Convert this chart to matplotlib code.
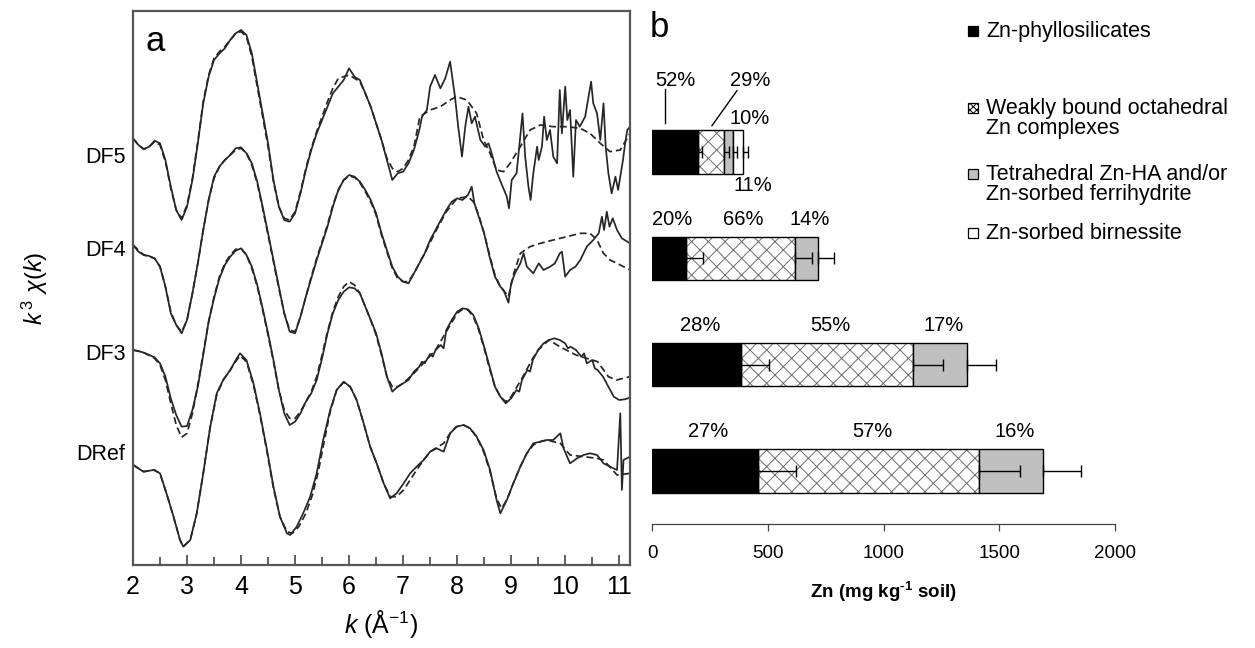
import matplotlib
matplotlib.use("Agg")
import matplotlib.pyplot as plt
from matplotlib.patches import Rectangle
import numpy as np

# ---- panel a: k3-weighted EXAFS spectra (solid = data, dashed = LCF fit) ----
sample_names = ["DF5", "DF4", "DF3", "DRef"]
# vertical stacking offsets of the spectra (arbitrary units)
spectrum_offsets = [13.2, 9.75, 6.75, 3.5]

df5_k = [2.0, 2.1, 2.2, 2.3, 2.4, 2.5, 2.6, 2.7, 2.8, 2.9, 3.0, 3.1, 3.2, 3.3, 3.4, 3.5,
         3.6, 3.7, 3.8, 3.9, 4.0, 4.1, 4.2, 4.3, 4.4, 4.5, 4.6, 4.7, 4.8, 4.9, 5.0, 5.1,
         5.2, 5.3, 5.4, 5.5, 5.6, 5.7, 5.8, 5.9, 6.0, 6.1, 6.2, 6.3, 6.4, 6.5, 6.6, 6.7,
         6.8, 6.9, 7.0, 7.1, 7.2, 7.3, 7.35, 7.44, 7.5, 7.59, 7.69, 7.78, 7.87, 7.96, 8.02,
         8.09, 8.15, 8.21, 8.27, 8.33, 8.43, 8.52, 8.58, 8.64, 8.73, 8.83, 8.92, 8.96, 9.01,
         9.1, 9.15, 9.21, 9.26, 9.32, 9.36, 9.41, 9.48, 9.51, 9.57, 9.61, 9.66, 9.72, 9.78,
         9.85, 9.9, 9.94, 10.0, 10.04, 10.09, 10.15, 10.2, 10.27, 10.37, 10.48, 10.52, 10.59,
         10.65, 10.71, 10.75, 10.8, 10.86, 10.93, 10.98, 11.02, 11.07, 11.11, 11.15, 11.2]
df5_data = [-0.40, -0.60, -0.73, -0.65, -0.47, -0.55, -1.05, -1.85, -2.55, -2.85, -2.45,
            -1.65, -0.55, 0.65, 1.45, 1.95, 2.15, 2.30, 2.55, 2.75, 2.85, 2.70, 2.15, 1.25,
            0.35, -0.55, -1.65, -2.45, -2.85, -2.90, -2.65, -2.05, -1.35, -0.75, -0.25, 0.15,
            0.55, 0.95, 1.15, 1.35, 1.70, 1.45, 1.35, 0.95, 0.55, 0.05, -0.45, -1.05, -1.65,
            -1.45, -1.40, -1.15, -0.75, -0.15, 0.25, 0.45, 1.15, 1.50, 1.10, 1.40, 1.90, 0.85,
            -0.05, -0.95, -0.05, 0.55, 0.05, 0.25, -0.45, -0.65, -0.55, -0.85, -1.40, -1.80,
            -2.15, -2.50, -1.65, -1.45, -0.65, 0.35, -0.95, -1.85, -2.25, -1.45, -0.65, -1.05,
            -0.65, 0.25, -0.45, -0.15, -0.95, -1.15, 1.05, -0.25, 1.15, 0.15, 0.45, -1.55, 0.15,
            -0.05, 0.25, 1.30, 0.65, 0.35, -0.45, 0.65, -0.65, -1.45, -2.05, -1.55, -1.95,
            -1.55, -1.05, -0.55, -0.15, -0.05]
df5_fit_k = [2.0, 2.1, 2.2, 2.3, 2.4, 2.5, 2.6, 2.7, 2.8, 2.9, 3.0, 3.1, 3.2, 3.3, 3.4, 3.5,
             3.6, 3.7, 3.8, 3.9, 4.0, 4.1, 4.2, 4.3, 4.4, 4.5, 4.6, 4.7, 4.8, 4.9, 5.0, 5.1,
             5.2, 5.3, 5.4, 5.5, 5.6, 5.7, 5.8, 5.9, 6.0, 6.1, 6.2, 6.3, 6.4, 6.5, 6.6, 6.7,
             6.8, 6.9, 7.0, 7.1, 7.2, 7.31, 7.5, 7.69, 7.87, 7.99, 8.18, 8.36, 8.49, 8.61, 8.73,
             8.86, 8.98, 9.17, 9.35, 9.54, 9.78, 10.03, 10.28, 10.46, 10.65, 10.83, 11.02, 11.2]
df5_fit = [-0.40, -0.60, -0.72, -0.65, -0.50, -0.60, -1.10, -1.90, -2.55, -2.80, -2.40,
           -1.60, -0.50, 0.70, 1.50, 2.00, 2.20, 2.35, 2.55, 2.75, 2.80, 2.65, 2.05, 1.15,
           0.25, -0.65, -1.70, -2.45, -2.80, -2.85, -2.60, -2.00, -1.30, -0.70, -0.20, 0.25,
           0.70, 1.10, 1.40, 1.45, 1.50, 1.40, 1.30, 0.95, 0.55, 0.05, -0.45, -1.00, -1.30,
           -1.40, -1.30, -1.05, -0.65, 0.25, 0.45, 0.55, 0.75, 0.85, 0.75, 0.35, -0.45, -0.85,
           -1.35, -1.40, -1.15, -0.65, -0.15, 0.00, -0.05, -0.05, -0.10, -0.25, -0.55, -0.80,
           -0.75, -0.25]

df4_k = [2.0, 2.1, 2.2, 2.3, 2.4, 2.5, 2.6, 2.7, 2.8, 2.9, 3.0, 3.1, 3.2, 3.3, 3.4, 3.5,
         3.6, 3.7, 3.8, 3.9, 4.0, 4.1, 4.2, 4.3, 4.4, 4.5, 4.6, 4.7, 4.8, 4.9, 5.0, 5.1,
         5.2, 5.3, 5.4, 5.5, 5.6, 5.7, 5.8, 5.9, 6.0, 6.1, 6.2, 6.3, 6.4, 6.5, 6.6, 6.7,
         6.8, 6.9, 7.0, 7.1, 7.2, 7.3, 7.4, 7.5, 7.6, 7.7, 7.8, 7.9, 8.0, 8.1, 8.2, 8.27,
         8.32, 8.4, 8.5, 8.6, 8.7, 8.8, 8.86, 8.95, 9.0, 9.07, 9.17, 9.23, 9.29, 9.41, 9.51,
         9.6, 9.72, 9.81, 9.9, 9.94, 10.0, 10.09, 10.19, 10.28, 10.4, 10.52, 10.62, 10.68,
         10.72, 10.77, 10.82, 10.88, 10.96, 11.05, 11.2]
df4_data = [-0.15, -0.35, -0.45, -0.48, -0.55, -0.80, -1.40, -2.20, -2.55, -2.80, -2.40,
            -1.60, -0.70, 0.30, 1.20, 1.90, 2.20, 2.40, 2.55, 2.75, 2.78, 2.60, 2.30, 1.75,
            1.00, 0.20, -0.60, -1.40, -2.20, -2.75, -2.80, -2.30, -1.70, -1.15, -0.60, -0.10,
            0.40, 1.00, 1.50, 1.80, 1.95, 1.90, 1.75, 1.50, 1.20, 0.80, 0.20, -0.30, -0.80,
            -1.10, -1.25, -1.30, -1.00, -0.70, -0.40, 0.00, 0.30, 0.60, 0.90, 1.15, 1.25, 1.20,
            1.35, 1.60, 1.10, 0.70, 0.20, -0.50, -1.10, -1.40, -1.50, -1.88, -1.30, -1.00,
            -0.70, -0.40, -0.80, -1.00, -0.70, -0.90, -0.80, -0.70, -0.40, -0.35, -1.10, -0.90,
            -0.80, -0.60, -0.20, 0.00, 0.20, 0.70, 0.30, 0.85, 0.40, 0.65, 0.30, 0.05, -0.10]
df4_fit_k = [2.0, 2.2, 2.4, 2.5, 2.6, 2.7, 2.8, 2.9, 3.0, 3.1, 3.2, 3.3, 3.4, 3.5, 3.6, 3.7,
             3.8, 3.9, 4.0, 4.1, 4.2, 4.3, 4.4, 4.5, 4.6, 4.7, 4.8, 4.9, 5.0, 5.1, 5.2, 5.3,
             5.4, 5.5, 5.6, 5.7, 5.8, 5.9, 6.0, 6.1, 6.2, 6.3, 6.4, 6.5, 6.6, 6.7, 6.8, 6.9,
             7.0, 7.1, 7.2, 7.4, 7.6, 7.8, 8.0, 8.2, 8.3, 8.4, 8.5, 8.6, 8.7, 8.8, 8.95, 9.05,
             9.17, 9.35, 9.54, 9.78, 10.03, 10.28, 10.46, 10.59, 10.71, 10.83, 10.96, 11.08, 11.2]
df4_fit = [-0.15, -0.45, -0.55, -0.80, -1.40, -2.15, -2.55, -2.75, -2.40, -1.60, -0.70,
           0.30, 1.20, 1.85, 2.20, 2.40, 2.55, 2.70, 2.75, 2.60, 2.25, 1.70, 0.95, 0.15,
           -0.65, -1.45, -2.20, -2.70, -2.75, -2.30, -1.70, -1.10, -0.55, -0.05, 0.45, 1.05,
           1.50, 1.80, 1.92, 1.88, 1.72, 1.45, 1.15, 0.75, 0.15, -0.35, -0.85, -1.15, -1.25,
           -1.25, -1.00, -0.40, 0.25, 0.85, 1.25, 1.30, 1.15, 0.75, 0.20, -0.45, -1.05, -1.40,
           -1.70, -1.00, -0.40, -0.20, -0.10, 0.00, 0.10, 0.20, 0.20, 0.00, -0.40, -0.60,
           -0.70, -0.80, -0.90]

df3_k = [2.0, 2.1, 2.2, 2.3, 2.4, 2.5, 2.6, 2.7, 2.8, 2.9, 3.0, 3.1, 3.2, 3.3, 3.4, 3.5,
         3.6, 3.7, 3.8, 3.9, 4.0, 4.1, 4.2, 4.3, 4.4, 4.5, 4.6, 4.7, 4.8, 4.9, 5.0, 5.1,
         5.2, 5.3, 5.4, 5.5, 5.6, 5.7, 5.8, 5.9, 6.0, 6.1, 6.2, 6.3, 6.4, 6.5, 6.6, 6.7,
         6.8, 6.9, 7.0, 7.1, 7.2, 7.3, 7.35, 7.4, 7.5, 7.55, 7.6, 7.7, 7.75, 7.8, 7.9, 8.0,
         8.1, 8.2, 8.3, 8.4, 8.5, 8.6, 8.7, 8.8, 8.9, 9.0, 9.1, 9.15, 9.2, 9.3, 9.35, 9.4,
         9.5, 9.6, 9.7, 9.8, 9.9, 10.0, 10.05, 10.1, 10.2, 10.3, 10.35, 10.4, 10.5, 10.55,
         10.6, 10.7, 10.8, 10.9, 11.0, 11.1, 11.2]
df3_data = [-0.30, -0.33, -0.38, -0.45, -0.52, -0.70, -1.10, -1.75, -2.25, -2.60, -2.58,
            -2.10, -1.40, -0.45, 0.55, 1.25, 1.85, 2.25, 2.50, 2.68, 2.75, 2.55, 2.20, 1.65,
            0.95, 0.20, -0.60, -1.50, -2.20, -2.55, -2.45, -2.20, -1.85, -1.60, -1.20, -0.55,
            0.20, 0.80, 1.20, 1.45, 1.58, 1.55, 1.40, 1.00, 0.60, 0.20, -0.40, -1.10, -1.55,
            -1.40, -1.30, -1.20, -0.95, -0.80, -0.65, -0.70, -0.42, -0.50, -0.30, -0.15, -0.25,
            0.30, 0.60, 0.85, 0.95, 0.92, 0.75, 0.35, -0.20, -0.80, -1.40, -1.70, -1.90, -1.75,
            -1.50, -1.55, -1.20, -0.90, -0.95, -0.60, -0.30, -0.10, 0.00, 0.05, 0.00, -0.10,
            -0.25, -0.20, -0.30, -0.50, -0.40, -0.70, -0.60, -0.85, -0.90, -1.10, -1.40, -1.70,
            -1.80, -1.78, -1.73]
df3_fit_k = [2.0, 2.2, 2.4, 2.5, 2.6, 2.7, 2.8, 2.9, 3.0, 3.1, 3.2, 3.3, 3.4, 3.5, 3.6, 3.7,
             3.8, 3.9, 4.0, 4.1, 4.2, 4.3, 4.4, 4.5, 4.6, 4.7, 4.8, 4.9, 5.0, 5.1, 5.2, 5.3,
             5.4, 5.5, 5.6, 5.7, 5.8, 5.9, 6.0, 6.1, 6.2, 6.3, 6.4, 6.5, 6.6, 6.7, 6.8, 6.9,
             7.0, 7.2, 7.4, 7.6, 7.8, 8.0, 8.1, 8.2, 8.3, 8.4, 8.5, 8.6, 8.7, 8.8, 8.9, 9.0,
             9.2, 9.4, 9.5, 9.7, 9.9, 10.2, 10.4, 10.6, 10.8, 10.95, 11.2]
df3_fit = [-0.30, -0.38, -0.55, -0.75, -1.20, -1.90, -2.55, -2.92, -2.80, -2.20, -1.35,
           -0.40, 0.55, 1.30, 1.90, 2.30, 2.55, 2.72, 2.75, 2.55, 2.15, 1.60, 0.90, 0.15,
           -0.65, -1.50, -2.10, -2.35, -2.35, -2.15, -1.85, -1.55, -1.10, -0.45, 0.25, 0.85,
           1.30, 1.60, 1.75, 1.65, 1.40, 1.00, 0.60, 0.15, -0.45, -1.10, -1.40, -1.40, -1.30,
           -1.00, -0.65, -0.30, 0.25, 0.80, 0.92, 0.90, 0.70, 0.30, -0.25, -0.85, -1.40,
           -1.70, -1.85, -1.70, -1.15, -0.55, -0.30, 0.00, -0.20, -0.45, -0.55, -0.65, -1.10,
           -1.20, -1.10]

dref_k = [2.01, 2.19, 2.38, 2.5, 2.62, 2.75, 2.87, 2.93, 3.06, 3.18, 3.3, 3.43, 3.55, 3.67,
          3.8, 3.92, 3.98, 4.1, 4.23, 4.35, 4.48, 4.6, 4.72, 4.85, 4.91, 5.03, 5.15, 5.28,
          5.4, 5.52, 5.65, 5.77, 5.9, 6.02, 6.14, 6.27, 6.39, 6.51, 6.64, 6.76, 6.88, 7.01,
          7.13, 7.25, 7.38, 7.5, 7.62, 7.75, 7.87, 7.99, 8.12, 8.24, 8.36, 8.49, 8.61, 8.73,
          8.8, 8.92, 9.04, 9.17, 9.29, 9.41, 9.54, 9.66, 9.78, 9.91, 9.97, 10.09, 10.22,
          10.34, 10.46, 10.59, 10.71, 10.83, 10.96, 11.02, 11.05, 11.08, 11.2]
dref_data = [-0.50, -0.70, -0.65, -0.75, -1.35, -2.05, -2.75, -2.95, -2.75, -1.95, -0.75,
             0.65, 1.65, 2.05, 2.35, 2.70, 2.85, 2.65, 1.95, 1.05, -0.05, -1.15, -2.05,
             -2.55, -2.60, -2.35, -1.95, -1.45, -0.75, 0.25, 1.15, 1.75, 2.00, 1.85, 1.45,
             0.75, 0.05, -0.45, -1.05, -1.50, -1.35, -1.05, -0.75, -0.55, -0.35, -0.10, 0.00,
             -0.10, 0.45, 0.65, 0.70, 0.60, 0.35, -0.05, -0.65, -1.55, -1.95, -1.55, -1.05,
             -0.55, -0.15, 0.15, 0.20, 0.25, 0.25, 0.45, 0.00, -0.45, -0.30, -0.20, -0.15,
             -0.20, -0.45, -0.55, -0.65, 1.05, -1.25, -0.35, -0.25]
dref_fit_k = [2.0, 2.2, 2.4, 2.5, 2.62, 2.75, 2.87, 2.93, 3.06, 3.18, 3.3, 3.43, 3.55, 3.67,
              3.8, 3.92, 3.98, 4.1, 4.23, 4.35, 4.48, 4.6, 4.72, 4.85, 4.95, 5.07, 5.2, 5.32,
              5.43, 5.55, 5.65, 5.77, 5.9, 6.02, 6.14, 6.27, 6.39, 6.51, 6.64, 6.76, 6.88,
              7.01, 7.13, 7.25, 7.38, 7.5, 7.75, 7.87, 7.99, 8.12, 8.24, 8.36, 8.49, 8.61,
              8.73, 8.82, 8.92, 9.04, 9.17, 9.29, 9.41, 9.54, 9.66, 9.78, 9.91, 10.09, 10.34,
              10.59, 10.71, 10.96, 11.2]
dref_fit = [-0.50, -0.70, -0.65, -0.75, -1.35, -2.05, -2.75, -2.95, -2.75, -1.95, -0.75,
            0.65, 1.60, 2.05, 2.35, 2.65, 2.78, 2.60, 1.90, 1.00, -0.10, -1.20, -2.05, -2.50,
            -2.55, -2.35, -1.95, -1.40, -0.70, 0.30, 1.10, 1.75, 1.98, 1.85, 1.45, 0.75, 0.05,
            -0.45, -1.05, -1.45, -1.45, -1.25, -0.95, -0.65, -0.35, -0.10, 0.15, 0.45, 0.65,
            0.70, 0.60, 0.35, -0.10, -0.70, -1.50, -1.80, -1.55, -1.05, -0.55, -0.15, 0.10,
            0.20, 0.25, 0.20, 0.15, -0.20, -0.25, -0.30, -0.35, -0.80, -0.75]

spectra = [
    (df5_k, df5_data, df5_fit_k, df5_fit),
    (df4_k, df4_data, df4_fit_k, df4_fit),
    (df3_k, df3_data, df3_fit_k, df3_fit),
    (dref_k, dref_data, dref_fit_k, dref_fit),
]

# ---- panel b: Zn speciation (mg/kg), bottom to top ----
bar_samples = ["DRef", "DF3", "DF4", "DF5"]
zn_phyllo = [458, 386, 145, 200]
zn_weak = [955, 743, 472, 112]
zn_tetra = [276, 230, 101, 38]
zn_birn = [0, 0, 0, 42]
err_phyllo = [163, 121, 76, 15]
err_weak = [176, 130, 76, 20]
err_tetra = [166, 127, 68, 19]
err_birn = [0, 0, 0, 24]
pct_phyllo = [27, 28, 20, 52]
pct_weak = [57, 55, 66, 29]
pct_tetra = [16, 17, 14, 10]
pct_birn = [None, None, None, 11]

legend_labels = ["Zn-phyllosilicates",
                 "Weakly bound octahedral\nZn complexes",
                 "Tetrahedral Zn-HA and/or\nZn-sorbed ferrihydrite",
                 "Zn-sorbed birnessite"]

plt.rcParams['font.family'] = ['Liberation Sans', 'DejaVu Sans']
plt.rcParams['mathtext.fontset'] = 'custom'
plt.rcParams['mathtext.rm'] = 'Liberation Sans'
plt.rcParams['mathtext.it'] = 'Liberation Sans:italic'
plt.rcParams['mathtext.bf'] = 'Liberation Sans:bold'
plt.rcParams['hatch.linewidth'] = 0.7

W, H = 1255, 648
fig = plt.figure(figsize=(W / 100, H / 100), dpi=100)


def px_box(x0, y0, x1, y1):
    # pixel box (top-left origin) -> figure fraction rect
    return [x0 / W, 1 - y1 / H, (x1 - x0) / W, (y1 - y0) / H]


# ---------------- panel a ----------------
ax = fig.add_axes(px_box(133, 11, 630, 565))
line_col = '#262626'
for (k, d, fk, f), off in zip(spectra, spectrum_offsets):
    ax.plot(k, np.array(d) + off, color=line_col, lw=1.25)
    ax.plot(fk, np.array(f) + off, color=line_col, lw=1.25, dashes=(4, 2.2))

ax.set_xlim(2.0, 11.2)
ax.set_ylim(0, 16.62)
ax.set_xticks(range(2, 12))
ax.set_xticks(np.arange(2.5, 11.2, 1.0), minor=True)
ax.set_yticks([])
ax.tick_params(axis='x', which='both', direction='in', top=False, color='#444',
               width=1.2, labelsize=18, pad=7)
ax.tick_params(axis='x', which='major', length=7)
ax.tick_params(axis='x', which='minor', length=6)
for sp in ax.spines.values():
    sp.set_color('#555')
    sp.set_linewidth(1.6)
ax.set_xlabel(r'$k$ (Å$^{-1}$)', fontsize=18, labelpad=7)
ax.set_ylabel(r'$k^{\,3}\ \chi(k)$', fontsize=17, labelpad=60)

label_dy = [-0.96, -0.30, -0.45, -0.20]
for name, off, dy in zip(sample_names, spectrum_offsets, label_dy):
    ax.text(-0.015, off + dy, name, transform=ax.get_yaxis_transform(),
            ha='right', va='center', fontsize=15.5)
ax.text(0.025, 0.975, 'a', transform=ax.transAxes, ha='left', va='top', fontsize=25)

# ---------------- panel b ----------------
bx = fig.add_axes(px_box(652, 11, 1115, 524))
ypos = np.arange(len(bar_samples))
bar_h = 0.41
components = [
    (zn_phyllo, err_phyllo, pct_phyllo, 'black', None),
    (zn_weak, err_weak, pct_weak, 'white', 'xx'),
    (zn_tetra, err_tetra, pct_tetra, '#c0c0c0', None),
    (zn_birn, err_birn, pct_birn, 'white', None),
]

left = np.zeros(len(bar_samples))
seg_centers = []
for vals, errs, pcts, fill, hatch in components:
    vals = np.array(vals, dtype=float)
    errs = np.array(errs, dtype=float)
    m = vals > 0
    if hatch:
        bx.barh(ypos[m], vals[m], left=left[m], height=bar_h, color=fill,
                edgecolor='#6e6e6e', hatch=hatch, lw=0, zorder=2)
        bx.barh(ypos[m], vals[m], left=left[m], height=bar_h, fill=False,
                edgecolor='black', lw=1.0, zorder=3)
    else:
        bx.barh(ypos[m], vals[m], left=left[m], height=bar_h, color=fill,
                edgecolor='black', lw=1.0, zorder=3)
    ends = left + vals
    bx.errorbar(ends[m], ypos[m], xerr=[np.zeros(m.sum()), errs[m]], fmt='none',
                ecolor='black', elinewidth=1.0, capsize=4.5, capthick=1.0, zorder=4)
    seg_centers.append(left + vals / 2)
    left = ends

# percentage labels above the bars (DRef, DF3, DF4)
for ci, (vals, errs, pcts, fill, hatch) in enumerate(components):
    for i in range(3):
        if pcts[i] is None:
            continue
        bx.text(seg_centers[ci][i] + 15, ypos[i] + 0.37, f'{pcts[i]}%', ha='center',
                va='center', fontsize=14.5)

# DF5: labels with leader lines
i5 = 3
bx.text(99, i5 + 0.68, f'{pct_phyllo[i5]}%', ha='center', va='center', fontsize=14.5)
bx.plot([56, 56], [i5 + 0.60, i5 + 0.28], color='black', lw=1.0)
bx.text(423, i5 + 0.68, f'{pct_weak[i5]}%', ha='center', va='center', fontsize=14.5)
bx.plot([367, 259], [i5 + 0.58, i5 + 0.25], color='black', lw=1.0)
bx.text(423, i5 + 0.32, f'{pct_tetra[i5]}%', ha='center', va='center', fontsize=14.5)
bx.text(436, i5 - 0.31, f'{pct_birn[i5]}%', ha='center', va='center', fontsize=14.5)

bx.set_xlim(0, 2000)
bx.set_ylim(-0.5, 4.33)
bx.set_xticks([0, 500, 1000, 1500, 2000])
bx.set_yticks([])
for s in ['left', 'right', 'top']:
    bx.spines[s].set_visible(False)
bx.spines['bottom'].set_color('#444')
bx.spines['bottom'].set_linewidth(0.9)
bx.tick_params(axis='x', direction='out', length=5, width=0.9, color='#444',
               labelsize=13.5, pad=10)
bx.set_xlabel(r'Zn (mg kg$^{\mathbf{‐1}}$ soil)', fontsize=13.5, fontweight='bold',
              labelpad=13)
bx.text(-0.005, 1.0, 'b', transform=bx.transAxes, ha='left', va='top', fontsize=25)

# ---------------- legend (drawn by hand, Excel style) ----------------
leg_fills = [('black', None), ('white', 'xxxxx'), ('#c0c0c0', None), ('white', None)]
leg_tops = [21, 98, 164, 223]
for lab, (fc, hatch), top in zip(legend_labels, leg_fills, leg_tops):
    sq = Rectangle((968 / W, 1 - (top + 15) / H), 10 / W, 10 / H, transform=fig.transFigure,
                   facecolor=fc, edgecolor='black', lw=0.9, hatch=hatch)
    fig.add_artist(sq)
    fig.text(986 / W, 1 - top / H, lab, ha='left', va='top', fontsize=15.5,
             linespacing=0.95)

fig.savefig('out.png', dpi=100)
